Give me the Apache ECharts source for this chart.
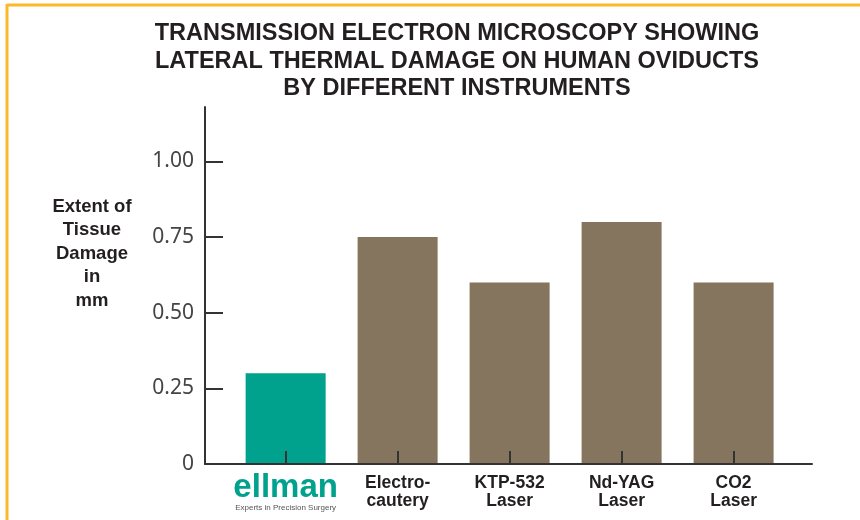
<!DOCTYPE html>
<html>
<head>
<meta charset="utf-8">
<style>
  html, body { margin: 0; padding: 0; background: #fff; }
  #chart { width: 860px; height: 520px; }
</style>
<script src="https://cdn.jsdelivr.net/npm/echarts@6/dist/echarts.min.js"></script>
</head>
<body>
<div id="chart"></div>
<script>
// data
const categories = ["ellman", "Electro-\ncautery", "KTP-532\nLaser", "Nd-YAG\nLaser", "CO2\nLaser"];
const damage = [0.30, 0.75, 0.60, 0.80, 0.60];
const yTicks = [0, 0.25, 0.5, 0.75, 1.0];
const yTickLabels = ["0", "0.25", "0.50", "0.75", "1.00"];
const catIndex = [0, 1, 2, 3, 4];

const TEAL = "#00a18d";
const BROWN = "#85745e";
const BORDER = "#fbb829";
const INK = "#231f20";

const chart = echarts.init(document.getElementById("chart"));

const option = {
  backgroundColor: "#fff",
  animation: false,
  title: [
    {
      text: "TRANSMISSION ELECTRON MICROSCOPY SHOWING\nLATERAL THERMAL DAMAGE ON HUMAN OVIDUCTS\nBY DIFFERENT INSTRUMENTS",
      left: 452,
      top: 15,
      textAlign: "center",
      textStyle: {
        fontFamily: "Liberation Sans",
        fontWeight: "bold",
        fontSize: 23.5,
        lineHeight: 27.5,
        color: INK,
      },
    },
    {
      text: "Extent of\nTissue\nDamage\nin\nmm",
      left: 87,
      top: 190,
      textAlign: "center",
      textStyle: {
        fontFamily: "Liberation Sans",
        fontWeight: "bold",
        fontSize: 18.5,
        lineHeight: 23.5,
        color: INK,
      },
    },
  ],
  grid: {
    left: 205,
    right: 48,
    top: 107,
    bottom: 56,
    containLabel: false,
  },
  xAxis: {
    type: "value",
    min: -0.72,
    max: 4.7,
    z: 10,
    splitLine: { show: false },
    axisLine: { show: true, onZero: false, lineStyle: { color: "#333", width: 2 } },
    axisTick: {
      show: true,
      inside: true,
      length: 13,
      customValues: catIndex,
      lineStyle: { color: "#333", width: 2 },
    },
    axisLabel: {
      customValues: catIndex,
      margin: 10,
      fontFamily: "Liberation Sans",
      fontWeight: "bold",
      fontSize: 17.5,
      lineHeight: 18,
      color: INK,
      formatter: (v) => {
        if (v === 0) return "{logo|ellman}\n{tag|Experts in Precision Surgery}";
        return categories[v];
      },
      rich: {
        logo: {
          fontFamily: "Liberation Sans",
          fontWeight: "bold",
          fontSize: 33,
          lineHeight: 28,
          color: TEAL,
        },
        tag: {
          fontFamily: "Liberation Sans",
          fontWeight: "normal",
          fontSize: 8,
          lineHeight: 11,
          color: "#555",
        },
      },
    },
  },
  yAxis: {
    type: "value",
    min: 0,
    max: 1.18,
    z: 10,
    splitLine: { show: false },
    axisLine: { show: true, onZero: false, lineStyle: { color: "#333", width: 2 } },
    axisTick: {
      show: true,
      inside: true,
      length: 18,
      customValues: yTicks,
      lineStyle: { color: "#333", width: 2 },
    },
    axisLabel: {
      customValues: yTicks,
      margin: 11,
      fontFamily: "Noto Sans",
      fontSize: 21,
      color: "#444",
      formatter: (v) => yTickLabels[yTicks.indexOf(v)],
    },
  },
  series: [
    {
      type: "bar",
      barWidth: 80,
      data: damage.map((d, i) => ({
        value: [catIndex[i], d],
        itemStyle: { color: i === 0 ? TEAL : BROWN },
      })),
    },
  ],
  graphic: [
    {
      type: "line",
      shape: { x1: 7, y1: 5, x2: 860, y2: 5 },
      style: { stroke: BORDER, lineWidth: 3 },
    },
    {
      type: "line",
      shape: { x1: 7, y1: 4, x2: 7, y2: 520 },
      style: { stroke: BORDER, lineWidth: 3 },
    },
  ],
};

chart.setOption(option);
</script>
</body>
</html>
